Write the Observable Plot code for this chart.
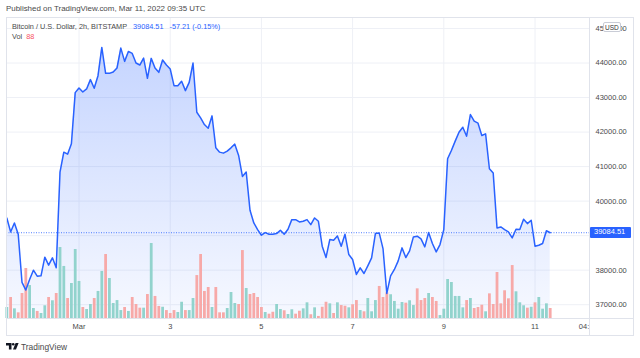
<!DOCTYPE html>
<html><head><meta charset="utf-8">
<script src="https://cdn.jsdelivr.net/npm/d3@7"></script>
<script src="https://cdn.jsdelivr.net/npm/@observablehq/plot@0.6"></script>
<style>
body{margin:0;background:#fff;font-family:"Liberation Sans",Arial,sans-serif;}
#wrap{position:relative;width:640px;height:358px;overflow:hidden;background:#fff;}
#wrap svg{position:absolute;left:0;top:0;}
.t{position:absolute;white-space:nowrap;line-height:1;}
.box{position:absolute;box-sizing:border-box;}
</style></head><body><div id="wrap"></div>
<script>
// ---- data ----
const startTime = "2022-02-27T10:00:00Z";   // first 2h bar
const stepHours = 2;
const closes = [
39512,39108,39368,39040,37644,37423,37730,38000,37827,37837,
38376,38145,38357,38068,40841,41419,41361,41660,43143,43278,
43162,43249,43519,43268,43634,44453,43701,43701,43740,43856,
44433,44048,44337,44279,44000,43942,44144,43557,44135,43856,
43730,44087,43942,43827,43345,43345,43470,43201,43441,44000,
42575,42411,42218,42113,42469,41544,41419,41390,41448,41544,
41650,41323,40716,40841,39734,39368,39175,39012,39089,39040,
39040,39060,39156,39040,39185,39464,39464,39397,39416,39464,
39320,39512,39416,38694,38366,38886,38867,38992,38694,39040,
38453,38309,37875,38068,37904,38126,38357,39060,39079,38626,
37326,37837,38020,38270,38646,38366,38559,38964,38983,38906,
38675,39089,38771,38530,38742,39175,41227,41467,41737,41997,
42141,41881,42507,42315,42257,41901,41949,40938,40812,39224,
39252,39175,39108,38935,39185,39175,39474,39349,39445,38694,
38723,38771,39141.72,39084.51];
const volumes = [
97,185,85,50,220,440,290,88,62,44,
112,185,156,220,625,458,176,308,607,326,
97,79,123,176,238,414,563,352,132,158,
70,97,62,185,123,91,91,211,660,194,
106,99,70,44,70,53,143,70,70,176,
378,563,238,273,97,273,50,50,88,229,
132,123,598,264,211,220,185,97,53,38,
55,123,79,68,35,77,38,64,85,138,
33,94,18,99,143,129,44,138,114,108,
94,121,158,70,59,176,59,158,282,185,
226,209,150,82,141,135,156,114,261,158,
176,220,185,150,26,82,343,317,194,194,
94,158,176,88,97,117,59,217,123,405,
129,244,173,466,235,138,112,91,99,138,
185,82,129,88];
const volDirections = [
"ududdduudu","ududuuduuu","duuduuduuu","ududddudud","duddduuduu",
"dddduddduu","udduddddud","duuduudduu","dudddududd","udduduuudd",
"duuuuduudd","dudduuuuuu","ududdduddd","dddduuudud","uuud"].join("");
const gridPrices = [37000,38000,39000,40000,41000,42000,43000,44000,45000];
const priceTicks = [37000,38000,40000,41000,42000,43000,44000,45000];
const timeTicks = ["2022-03-01T00:00Z","2022-03-03T00:00Z","2022-03-05T00:00Z","2022-03-07T00:00Z","2022-03-09T00:00Z","2022-03-11T00:00Z","2022-03-12T04:00Z"];
const timeLabels = ["Mar","3","5","7","9","11","04:00"];
const dayGrid = ["2022-03-01T00:00Z","2022-03-03T00:00Z","2022-03-05T00:00Z","2022-03-07T00:00Z","2022-03-09T00:00Z","2022-03-11T00:00Z"];
const xExtent = ["2022-02-27T09:50Z","2022-03-12T04:41Z"];
const yExtent = [36600, 45290];
const volMax = 880;
const lastPrice = 39084.51, priceChange = "-57.21 (-0.15%)", lastVolume = 88;
const symbolTitle = "Bitcoin / U.S. Dollar, 2h, BITSTAMP";
const published = "Published on TradingView.com, Mar 11, 2022 09:35 UTC";

// ---- build ----
const t0 = new Date(startTime).getTime();
const rows = closes.map((c, i) => ({
  t: new Date(t0 + i * stepHours * 3600e3),
  close: c,
  vol: volumes[i],
  up: volDirections[i] === "u"
}));
const labelMap = new Map(timeTicks.map((d, i) => [+new Date(d), timeLabels[i]]));
const FONT = '"Liberation Sans", Arial, sans-serif';
const common = {
  width: 640, height: 358,
  marginTop: 18, marginBottom: 40, marginLeft: 6, marginRight: 51,
  style: {background: "transparent", fontFamily: FONT, fontSize: "7.5px", color: "#4a4a4a", overflow: "visible"}
};
const xScale = {type: "utc", domain: xExtent.map(d => new Date(d))};

const plotA = Plot.plot({
  ...common,
  x: {...xScale, ticks: timeTicks.map(d => new Date(d)), tickFormat: d => labelMap.get(+d), tickSize: 0, tickPadding: 5, label: null},
  y: {domain: yExtent, axis: "right", ticks: priceTicks, tickFormat: d3.format(".2f"), tickSize: 0, tickPadding: 6, label: null},
  marks: [
    Plot.ruleY(gridPrices, {stroke: "#eef0f6", strokeWidth: 1}),
    Plot.ruleX(dayGrid.map(d => new Date(d)), {stroke: "#eef0f6", strokeWidth: 1}),
    Plot.areaY(rows, {x: "t", y1: yExtent[0], y2: "close", fill: "url(#areaGrad)"})
  ]
});
const defs = document.createElementNS("http://www.w3.org/2000/svg", "defs");
defs.innerHTML = '<linearGradient id="areaGrad" x1="0" y1="0" x2="0" y2="1"><stop offset="0" stop-color="#2962ff" stop-opacity="0.27"/><stop offset="1" stop-color="#2962ff" stop-opacity="0.04"/></linearGradient>';
plotA.insertBefore(defs, plotA.firstChild);

const plotB = Plot.plot({
  ...common,
  marginTop: 218,
  x: {...xScale, axis: null},
  y: {domain: [0, volMax], axis: null},
  marks: [
    Plot.ruleX(rows, {x: "t", y1: 0, y2: "vol", stroke: d => d.up ? "#92d3cd" : "#f7a9a8", strokeWidth: 2.8})
  ]
});

const plotC = Plot.plot({
  ...common,
  x: {...xScale, axis: null},
  y: {domain: yExtent, axis: null},
  marks: [
    Plot.ruleY([lastPrice], {stroke: "#2962ff", strokeOpacity: 0.8, strokeDasharray: "1 1.5", strokeWidth: 1}),
    Plot.lineY(rows, {x: "t", y: "close", stroke: "#2962ff", strokeWidth: 1.5})
  ]
});

const wrap = document.getElementById("wrap");
wrap.append(plotA, plotB, plotC);

function add(html) { wrap.insertAdjacentHTML("beforeend", html); }
// frame & separators
add('<div class="box" style="left:6px;top:17px;width:628px;height:319px;border:1px solid #e0e3eb;"></div>');
add('<div class="box" style="left:589px;top:17px;width:1px;height:319px;background:#e0e3eb;"></div>');
add('<div class="box" style="left:6px;top:318px;width:628px;height:1px;background:#e0e3eb;"></div>');
// clip of time labels under price scale
add('<div class="box" style="left:590px;top:319px;width:43px;height:16px;background:#fff;"></div>');

// current price badge placed via the y scale
const ys = plotC.scale("y");
const yPx = ys.apply ? ys.apply(lastPrice) : d3.scaleLinear(ys.domain, ys.range)(lastPrice);
add(`<div class="box" style="left:590px;top:${(yPx - 5.5).toFixed(1)}px;width:41px;height:11px;background:#2962ff;border-radius:1px;"></div>`);
add(`<div class="t" style="left:594px;top:${(yPx - 4).toFixed(1)}px;font-size:7.5px;color:#fff;">${d3.format(".2f")(lastPrice)}</div>`);

// USD badge
add('<div class="box" style="left:603px;top:22px;width:18px;height:10px;background:#fff;border:1px solid #c9ccd6;border-radius:2px;"></div>');
add('<div class="t" style="left:605px;top:24.5px;font-size:6.5px;color:#333;">USD</div>');

// header / legend
add(`<div class="t" style="left:6px;top:5px;font-size:7.95px;color:#4a4a4a;">${published}</div>`);
add(`<div class="t" style="left:12px;top:22.5px;font-size:7.3px;color:#4a4a4a;">${symbolTitle}<span style="color:#2962ff;margin-left:6px;">${d3.format(".2f")(lastPrice)}</span><span style="color:#2962ff;margin-left:6px;">${priceChange}</span></div>`);
add(`<div class="t" style="left:12px;top:32.5px;font-size:7.3px;color:#4a4a4a;">Vol<span style="color:#f7525f;margin-left:4px;">${lastVolume}</span></div>`);

// TradingView logo
add('<svg style="position:absolute;left:6px;top:343px" width="13" height="7" viewBox="0 0 13 7"><path d="M0 0h5.5v6.5h-2.6V2.4H0z" fill="#131722"/><circle cx="7.2" cy="1.3" r="1.3" fill="#131722"/><path d="M9.6 0h3L10 6.5H7z" fill="#131722"/></svg>');
add('<div class="t" style="left:21px;top:342.5px;font-size:8.4px;color:#4a4a4a;">TradingView</div>');
</script></body></html>
